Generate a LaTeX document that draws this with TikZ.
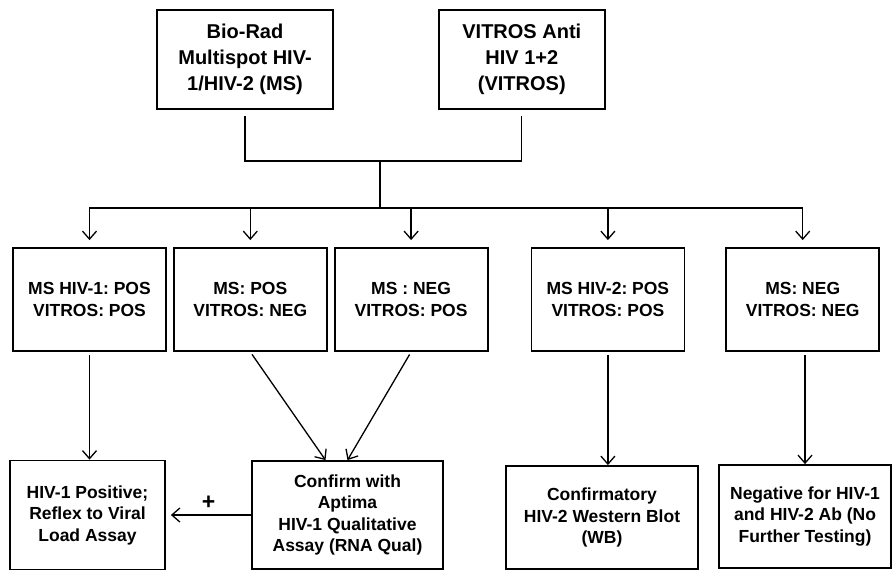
\documentclass[tikz,border=0pt]{standalone}
\usepackage{fontspec}
\setmainfont{Liberation Sans}
\usepackage{tikz}
\usetikzlibrary{arrows.meta, positioning}
\frenchspacing
\tikzstyle{block} = [draw, rectangle, line width=1.8pt, align=center, inner sep=2pt, font=\bfseries\fontsize{17.5}{21.5}\selectfont]
\tikzstyle{assay} = [block, minimum height=99pt, font=\bfseries\fontsize{20}{26}\selectfont]
\tikzstyle{result} = [block, minimum width=153pt, minimum height=103pt]
\tikzstyle{line} = [line width=1.3pt]

\begin{document}
\begin{tikzpicture}[x=1pt, y=-1pt, node distance=6pt, >={Straight Barb[length=8pt,width=14pt]}]
    \useasboundingbox (0,0) rectangle (893,571);
    % We start by placing the two assays
    \node [assay, minimum width=176pt] (biorad) at (245,59.5) {Bio-Rad\\Multispot HIV-\\1/HIV-2 (MS)};
    \node [assay, minimum width=166pt, right=104pt of biorad] (vitros) {VITROS Anti\\HIV 1+2\\(VITROS)};

    % then the results
    \node [result] (hivpos) at (89.5,299.5) {MS HIV-1: POS\\VITROS: POS};
    \node [result, right=of hivpos] (mspos) {MS: POS\\VITROS: NEG};
    \node [result, right=of mspos] (vitpos) {MS : NEG\\VITROS: POS};
    \node [result, right=42pt of vitpos] (hivtwo) {MS HIV-2: POS\\VITROS: POS};
    \node [result, right=40pt of hivtwo] (bothneg) {MS: NEG\\VITROS: NEG};

    % and the follow up
    \node [block, minimum width=155pt, minimum height=109pt] (reflex) at (87.5,515) {HIV-1 Positive;\\Reflex to Viral\\Load Assay};
    \node [block, minimum width=191pt, minimum height=108pt] (rnaqual) at (347.5,515) {Confirm with\\Aptima\\HIV-1 Qualitative\\Assay (RNA Qual)};
    \node [block, minimum width=192pt, minimum height=103pt] (wb) at (602,517.5) {Confirmatory\\HIV-2 Western Blot\\(WB)};
    \node [block, minimum width=172pt, minimum height=103pt] (negres) at (805,516.5) {Negative for HIV-1\\and HIV-2 Ab (No\\Further Testing)};

    \coordinate (merge) at (380,161);
    \coordinate (split) at (380,208);

    \draw[line, shorten <=6pt] (biorad.south) |- (merge);
    \draw[line, shorten <=6pt] (vitros.south) |- (merge);
    \draw[line] (merge) -- (split);
    \foreach \res in {hivpos, mspos, vitpos, hivtwo, bothneg}
        \draw[line, ->, shorten >=7pt] (split) -| (\res.north);

    \draw[line, ->, shorten <=3pt] (hivpos.south) -- (hivpos.south |- reflex.north);
    \draw[line, ->, shorten <=3pt] (mspos.south) -- ([xshift=-22pt]rnaqual.north);
    \draw[line, ->, shorten <=3pt] (vitpos.south) -- (rnaqual.north);
    \draw[line, ->, shorten >=5pt] (rnaqual.west) -- node [above=2pt, font=\bfseries\fontsize{23}{24}\selectfont] {+} (reflex.east);
    \draw[line, ->, shorten <=3pt] (hivtwo.south) -- (hivtwo.south |- wb.north);
    \draw[line, ->, shorten <=3pt] (bothneg.south -| negres.north) -- (negres.north);
\end{tikzpicture}
\end{document}
